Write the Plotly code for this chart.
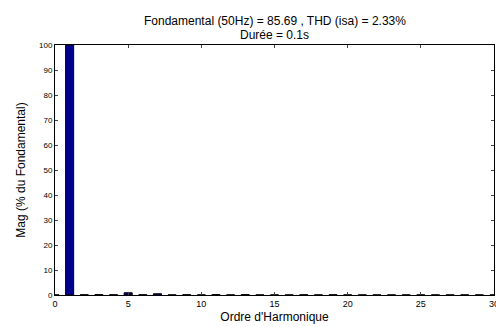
import plotly.graph_objects as go

harmonics = list(range(0, 31))
magnitudes = [0.05, 100, 0.1, 0.15, 0.1, 0.9, 0.1, 0.5, 0.05, 0.1, 0.05, 0.2, 0.05, 0.15,
              0.05, 0.05, 0.05, 0.1, 0.05, 0.1, 0.05, 0.05, 0.05, 0.05, 0.05, 0.05,
              0.05, 0.05, 0.05, 0.05, 0.05]
x_ticks = [0, 5, 10, 15, 20, 25, 30]
y_ticks = [0, 10, 20, 30, 40, 50, 60, 70, 80, 90, 100]
title_lines = ["Fondamental (50Hz) = 85.69 , THD (isa) = 2.33%", "Durée = 0.1s"]

fig = go.Figure()
fig.add_trace(go.Bar(
    x=harmonics, y=magnitudes, width=0.55,
    marker=dict(color="rgb(0,0,143)", line=dict(color="black", width=1)),
))

font = "Liberation Sans, Arial, sans-serif"
fig.add_annotation(text=title_lines[0], xref="paper", yref="paper", x=0.5, y=1.096,
                   xanchor="center", yanchor="middle", showarrow=False,
                   font=dict(size=12, family=font, color="black"))
fig.add_annotation(text=title_lines[1], xref="paper", yref="paper", x=0.5, y=1.038,
                   xanchor="center", yanchor="middle", showarrow=False,
                   font=dict(size=12, family=font, color="black"))
fig.add_annotation(text=str(x_ticks[-1]), xref="x", yref="paper", x=x_ticks[-1], y=0,
                   xanchor="center", yanchor="top", yshift=-2, showarrow=False,
                   font=dict(size=9, family=font, color="black"))

fig.update_layout(
    width=496, height=327,
    margin=dict(l=55, r=2, t=45, b=32),
    paper_bgcolor="white", plot_bgcolor="white",
    showlegend=False,
    font=dict(family=font, color="black"),
    xaxis=dict(
        range=[0, 30], tickvals=x_ticks, ticks="inside", ticklen=3,
        showline=True, linecolor="black", linewidth=1, mirror="ticks",
        showgrid=False, zeroline=False, tickfont=dict(size=9),
        title=dict(text="Ordre d'Harmonique", font=dict(size=12), standoff=4),
    ),
    yaxis=dict(
        range=[0, 100], tickvals=y_ticks, ticks="inside", ticklen=3,
        showline=True, linecolor="black", linewidth=1, mirror="ticks",
        showgrid=False, zeroline=False, tickfont=dict(size=8),
        title=dict(text="Mag (% du Fondamental)", font=dict(size=12), standoff=10),
    ),
)
fig.write_html("out.html")
